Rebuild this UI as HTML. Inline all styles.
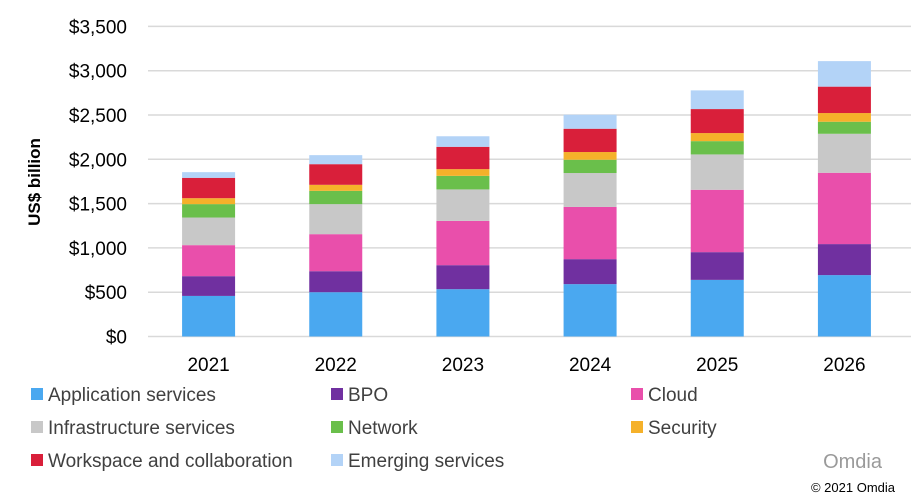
<!DOCTYPE html>
<html><head><meta charset="utf-8"><style>
body{margin:0;background:#fff;font-family:"Liberation Sans",Arial,sans-serif;}
svg text{font-family:"Liberation Sans",Arial,sans-serif;}
</style></head><body>
<svg id="chart" width="911" height="498">
<g id="grid"></g><g id="bars"></g><g id="axis"></g><g id="legend"></g>
<text x="40" y="182" transform="rotate(-90 40 182)" text-anchor="middle" font-size="17" font-weight="bold" fill="#000">US$ billion</text>
<text x="882" y="468" text-anchor="end" font-size="20" fill="#9a9a9a">Omdia</text>
<text x="895" y="492" text-anchor="end" font-size="13" fill="#000">© 2021 Omdia</text>
</svg>
<script>
const categories=["2021","2022","2023","2024","2025","2026"];
const seriesNames=["Application services","BPO","Cloud","Infrastructure services","Network","Security","Workspace and collaboration","Emerging services"];
const appServices=[458,500,534,591,639,693];
const bpo=[223,237,271,282,313,350];
const cloud=[350,418,500,589,704,805];
const infra=[312,339,355,383,399,440];
const network=[151,150,153,150,150,136];
const security=[67,68,76,87,91,98];
const workspace=[230,233,252,263,271,298];
const emerging=[64,102,119,158,211,288];
const yTicks=[0,500,1000,1500,2000,2500,3000,3500];
const yTickLabels=["$0","$500","$1,000","$1,500","$2,000","$2,500","$3,000","$3,500"];
const series=[appServices,bpo,cloud,infra,network,security,workspace,emerging];
const colors=["#4aa8f0","#7030a0","#e94fab","#c8c8c8","#6abf4b","#f5b12a","#d91f3a","#b3d3f7"];
const NS="http://www.w3.org/2000/svg";
const x0=148,x1=911,y0=336.5,pxPer=44.3/500;
const y=v=>y0-v*pxPer;
const band=(x1-x0)/categories.length;
const xc=i=>x0+band*(i+0.5)-3;
function mk(t,a,p){const e=document.createElementNS(NS,t);for(const k in a)e.setAttribute(k,a[k]);p.appendChild(e);return e;}
const grid=document.getElementById('grid'),axis=document.getElementById('axis'),bars=document.getElementById('bars'),legend=document.getElementById('legend');
yTicks.forEach((v,i)=>{
 const l=mk('line',{x1:x0,x2:x1,y1:y(v),y2:y(v),stroke:'#d9d9d9','stroke-width':1.5},grid);
 
 
 const t=mk('text',{x:127,y:y(v)+7,'text-anchor':'end','font-size':19,fill:'#000'},axis);
 t.textContent=yTickLabels[i];
 
 
});
categories.forEach((c,i)=>{
 let acc=0;
 series.forEach((s,j)=>{
  const r=mk('rect',{x:xc(i)-26.5,width:53,y:y(acc+s[i]),height:s[i]*pxPer,fill:colors[j]},bars);
  
  
  acc+=s[i];
 });
 const t=mk('text',{x:xc(i),y:371,'text-anchor':'middle','font-size':19,fill:'#000'},axis);
 t.textContent=c;
 
 
});
seriesNames.forEach((n,j)=>{
 const lx=31+(j%3)*300, ly=394+Math.floor(j/3)*33;
 const g=mk('g',{},legend);
 
 
 mk('rect',{x:lx,y:ly-6,width:12,height:12,fill:colors[j]},g);
 const t=mk('text',{x:lx+17,y:ly+7,'font-size':19,fill:'#404040'},g);
 t.textContent=n;
});
</script>
</body></html>
